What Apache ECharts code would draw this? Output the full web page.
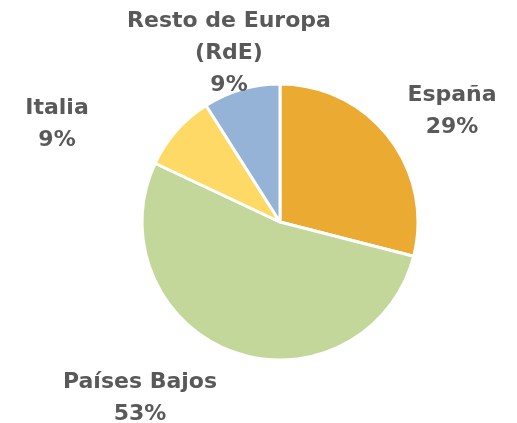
<!DOCTYPE html>
<html>
<head>
<meta charset="utf-8">
<script src="https://cdn.jsdelivr.net/npm/echarts@6/dist/echarts.min.js"></script>
<style>
  html, body { margin: 0; padding: 0; background: #fff; }
  #chart { width: 517px; height: 423px; }
</style>
</head>
<body>
<div id="chart"></div>
<script>
// datos del gráfico
const categories = ["España", "Países Bajos", "Italia", "Resto de Europa\n(RdE)"];
const values = [29, 53, 9, 9];
const colors = ["#EBAA32", "#C4D79B", "#FFD966", "#95B3D7"];
// posiciones de las etiquetas (centro del texto)
const labelPos = [[452, 111], [140, 398], [57, 124], [229, 53]];

let myChart = echarts.init(document.getElementById("chart"));
let option = {
  animation: false,
  series: [
    {
      type: "pie",
      center: [280, 222],
      radius: 138,
      startAngle: 90,
      clockwise: true,
      itemStyle: {
        borderColor: "#fff",
        borderWidth: 3
      },
      label: {
        show: true,
        position: "outside",
        formatter: "{b}\n{d}%",
        fontFamily: "DejaVu Sans",
        fontWeight: "bold",
        fontSize: 22,
        lineHeight: 32,
        color: "#595959",
        align: "center",
        overflow: "none"
      },
      labelLine: { show: false },
      labelLayout: function (params) {
        let p = labelPos[params.dataIndex];
        return { x: p[0], y: p[1], align: "center", verticalAlign: "middle", width: 300 };
      },
      data: categories.map((c, i) => ({
        name: c,
        value: values[i],
        itemStyle: { color: colors[i] }
      }))
    }
  ]
};
myChart.setOption(option);
</script>
</body>
</html>
